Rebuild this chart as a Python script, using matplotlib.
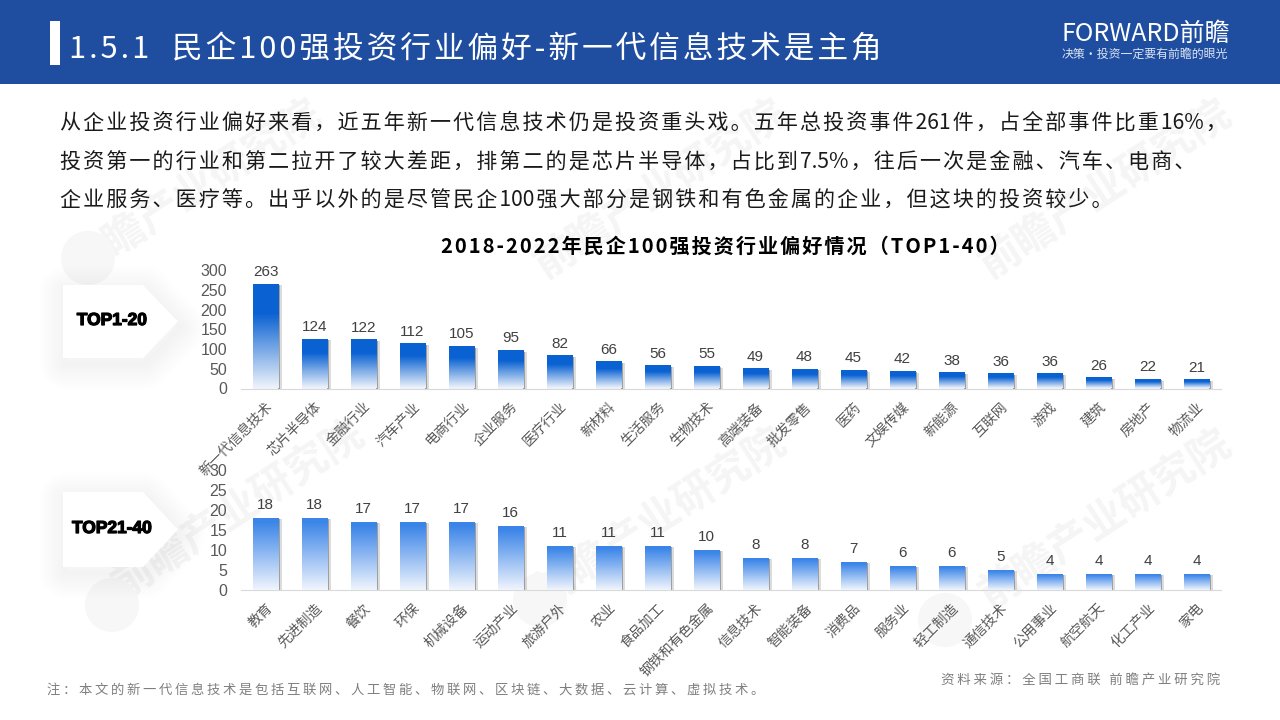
import matplotlib
matplotlib.use("Agg")
import numpy as np
import matplotlib.pyplot as plt
import matplotlib.patheffects as pe
from matplotlib.colors import LinearSegmentedColormap
from matplotlib.patches import Polygon, Rectangle, Circle

plt.rcParams['font.family'] = ['Noto Sans CJK SC', 'DejaVu Sans']

# ================================ data ================================
top20_names = ["新一代信息技术", "芯片半导体", "金融行业", "汽车产业", "电商行业", "企业服务", "医疗行业",
               "新材料", "生活服务", "生物技术", "高端装备", "批发零售", "医药", "文娱传媒", "新能源",
               "互联网", "游戏", "建筑", "房地产", "物流业"]
top20_values = [263, 124, 122, 112, 105, 95, 82, 66, 56, 55, 49, 48, 45, 42, 38, 36, 36, 26, 22, 21]
top20_ticks = [0, 50, 100, 150, 200, 250, 300]

top40_names = ["教育", "先进制造", "餐饮", "环保", "机械设备", "运动产业", "旅游户外", "农业", "食品加工",
               "钢铁和有色金属", "信息技术", "智能装备", "消费品", "服务业", "轻工制造", "通信技术",
               "公用事业", "航空航天", "化工产业", "家电"]
top40_values = [18, 18, 17, 17, 17, 16, 11, 11, 11, 10, 8, 8, 7, 6, 6, 5, 4, 4, 4, 4]
top40_ticks = [0, 5, 10, 15, 20, 25, 30]

title_text = "1.5.1  民企100强投资行业偏好-新一代信息技术是主角"
body_lines = ["从企业投资行业偏好来看，近五年新一代信息技术仍是投资重头戏。五年总投资事件261件，占全部事件比重16%，",
              "投资第一的行业和第二拉开了较大差距，排第二的是芯片半导体，占比到7.5%，往后一次是金融、汽车、电商、",
              "企业服务、医疗等。出乎以外的是尽管民企100强大部分是钢铁和有色金属的企业，但这块的投资较少。"]
chart_title = "2018-2022年民企100强投资行业偏好情况（TOP1-40）"
note_text = "注：本文的新一代信息技术是包括互联网、人工智能、物联网、区块链、大数据、云计算、虚拟技术。"
source_text = "资料来源：全国工商联 前瞻产业研究院"

W, H = 1280, 720
BLUE = "#1F4EA1"
HAIR = "\u200a"
THIN = "\u2009"


def spaced(s, sep) :
    return sep.join(s)


def spaced_cjk(s, sep) :
    # latin digits stay tight, only the wide characters get the gap
    out = ""
    for a, b in zip(s, s[1:]+" ") :
        out += a
        if not (a.isascii() and b.isascii()) :
            out += sep
    return out.rstrip()


def px_axes(fig, left, top, right, bottom) :
    return fig.add_axes([left/W, 1-bottom/H, (right-left)/W, (bottom-top)/H])


def draw_panel(ax, names, values, ticks, ymax, top_col, bot_col, stop) :
    x = np.arange(len(names))
    bars = ax.bar(x, values, width=0.52, color=bot_col, zorder=2,
                  path_effects=[pe.SimplePatchShadow(offset=(2.4,-0.6), shadow_rgbFace='#777777', alpha=0.25),
                                pe.SimplePatchShadow(offset=(1.3,-0.4), shadow_rgbFace='#555555', alpha=0.45),
                                pe.Normal()])
    cmap = LinearSegmentedColormap.from_list("bar", [(0, top_col), (stop, top_col), (1, bot_col)])
    grad = np.linspace(0, 1, 128).reshape(-1, 1)
    for b in bars :
        ax.imshow(grad, cmap=cmap, aspect='auto', zorder=3, vmin=0, vmax=1,
                  extent=(b.get_x(), b.get_x()+b.get_width(), 0, b.get_height()))
    for xi, v in zip(x, values) :
        ax.annotate(str(v), (xi, v), xytext=(0, 4), textcoords='offset points', ha='center', va='bottom',
                    fontsize=11, color='#404040', family='Liberation Sans', zorder=4)
    ax.set_xlim(-0.5, len(names)-0.5)
    ax.set_ylim(0, ymax)
    ax.set_yticks(ticks)
    ax.set_xticks(x)
    ax.set_xticklabels(names, rotation=45, ha='right', va='top', rotation_mode='anchor',
                       fontsize=10, color='#595959')
    ax.tick_params(axis='x', length=0, pad=8)
    ax.tick_params(axis='y', length=0, pad=10, labelsize=11.5, labelcolor='#595959')
    for lab in ax.get_yticklabels() :
        lab.set_family('Liberation Sans')
    for s in ['top', 'left', 'right'] :
        ax.spines[s].set_visible(False)
    ax.spines['bottom'].set_color('#D9D9D9')
    ax.patch.set_alpha(0)


def draw_tag(bg, label, top, bottom) :
    mid = (top+bottom)/2
    pts = [(63,top), (143,top), (178,mid), (143,bottom), (63,bottom)]
    for lw in range(36, 0, -3) :
        bg.add_patch(Polygon([(px+2, py+6) for px, py in pts], closed=True, facecolor='none',
                             edgecolor='#000000', lw=lw, alpha=0.0035, joinstyle='round', zorder=2))
    bg.add_patch(Polygon(pts, closed=True, facecolor='white', edgecolor='none', zorder=3))
    bg.text(112, mid-1, label, ha='center', va='center', fontsize=12.5, color='black', weight='bold',
            family='Liberation Sans', zorder=4,
            path_effects=[pe.withStroke(linewidth=0.9, foreground='black')])


fig = plt.figure(figsize=(12.8, 7.2), dpi=100, facecolor='white')

# ================================ page furniture ================================
bg = fig.add_axes([0, 0, 1, 1])
bg.set_xlim(0, W)
bg.set_ylim(H, 0)
bg.axis('off')

for wx, wy in [(195,190), (660,190), (1105,190), (238,510), (660,518), (1105,520)] :
    bg.text(wx, wy, "前瞻产业研究院", rotation=33, ha='center', va='center', fontsize=30,
            color='#F5F5F5', weight='bold', zorder=1)
for cx, cy in [(88,258), (112,605), (540,600), (945,620)] :
    bg.add_patch(Circle((cx, cy), 27, facecolor='#F7F7F7', edgecolor='none', zorder=1))

bg.add_patch(Rectangle((0, 0), W, 84, facecolor=BLUE, edgecolor='none', zorder=5))
bg.add_patch(Rectangle((50, 21), 10, 44, facecolor='white', edgecolor='none', zorder=6))
bg.text(69, 50, spaced(title_text, HAIR), ha='left', va='center', fontsize=22.1, color='white', zorder=6)
bg.text(1062, 34, "FORWARD前瞻", ha='left', va='center', fontsize=18, color='white', weight='medium', zorder=6)
bg.text(1062, 54, "决策·投资一定要有前瞻的眼光", ha='left', va='center', fontsize=8.6, color='#DCE4F2', zorder=6)

for line, ly in zip(body_lines, [123, 163, 201]) :
    bg.text(60, ly, spaced_cjk(line, HAIR), ha='left', va='center', fontsize=15.15, color='#1A1A1A', zorder=6)

bg.text(725, 246, spaced(chart_title, HAIR), ha='center', va='center', fontsize=14.5, color='black',
        weight='bold', zorder=6)
bg.text(47, 691, spaced(note_text, THIN), ha='left', va='center', fontsize=9.6, color='#7F7F7F', zorder=6)
bg.text(1220, 681, spaced(source_text, THIN), ha='right', va='center', fontsize=9.7, color='#7F7F7F', zorder=6)

draw_tag(bg, "TOP1-20", 285, 358)
draw_tag(bg, "TOP21-40", 492, 567)

# ================================ charts ================================
ax1 = px_axes(fig, 241, 270, 1221, 388.5)
draw_panel(ax1, top20_names, top20_values, top20_ticks, 300, '#0A62D2', '#EEF3FB', 0.28)

ax2 = px_axes(fig, 241, 470, 1221, 590)
draw_panel(ax2, top40_names, top40_values, top40_ticks, 30, '#3B85E8', '#F0F5FD', 0.05)

plt.savefig("out.png", dpi=100)
